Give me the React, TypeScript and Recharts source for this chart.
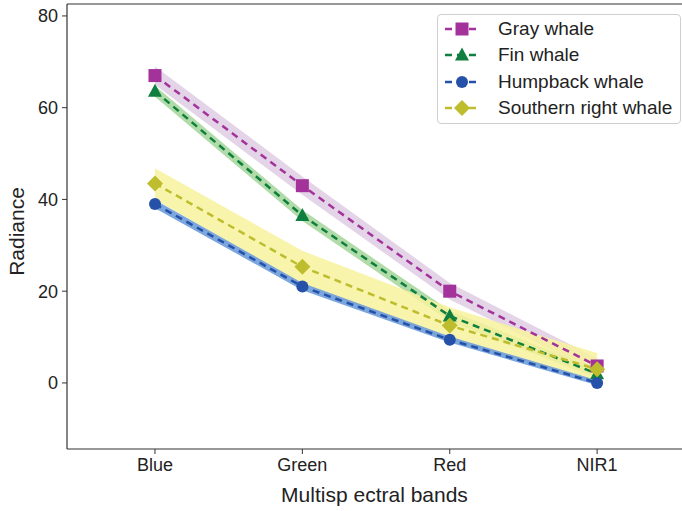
import { ComposedChart, Line, Area, XAxis, YAxis, ReferenceLine } from "recharts";

const bands = ["Blue", "Green", "Red", "NIR1"];
const bandPos = [1, 2, 3, 4];

// mean radiance per band
const grayWhale = [67, 43, 20, 3.7];
const finWhale = [63.6, 36.5, 14.6, 2];
const humpbackWhale = [39, 21, 9.4, 0];
const southernRightWhale = [43.5, 25.3, 12.5, 3];

// shaded spread per band
const grayLow = [65, 41, 18.2, 2.2];
const grayHigh = [69, 45, 21.8, 5.4];
const finLow = [62.4, 35.3, 13.4, 1];
const finHigh = [64.8, 37.7, 15.8, 3];
const humpLow = [38.1, 20.2, 8.8, -0.5];
const humpHigh = [39.9, 21.8, 10.1, 0.6];
const southLow = [40, 21.5, 9.3, 0.3];
const southHigh = [46.8, 28.8, 16.5, 6.5];

const yTicks = [0, 20, 40, 60, 80];
const yDomain = [-14.4, 82.6];
const xDomain = [0.403, 4.576];

const series = [
  { key: "gray", name: "Gray whale", color: "#a3339b", shape: "square" },
  { key: "fin", name: "Fin whale", color: "#0e7f3e", shape: "triangle" },
  { key: "hump", name: "Humpback whale", color: "#2651a8", shape: "circle" },
  { key: "south", name: "Southern right whale", color: "#bdbd2e", shape: "diamond" },
];

const data = bandPos.map((x, i) => ({
  x,
  gray: grayWhale[i],
  fin: finWhale[i],
  hump: humpbackWhale[i],
  south: southernRightWhale[i],
  grayRange: [grayLow[i], grayHigh[i]],
  finRange: [finLow[i], finHigh[i]],
  humpRange: [humpLow[i], humpHigh[i]],
  southRange: [southLow[i], southHigh[i]],
}));

const font = "'Liberation Sans', Arial, sans-serif";

function Marker({ shape, cx, cy, color }: any) {
  if (shape === "square") return <rect x={cx - 6.5} y={cy - 6.5} width={13} height={13} fill={color} />;
  if (shape === "triangle")
    return <polygon points={`${cx},${cy - 7.5} ${cx + 7},${cy + 5.5} ${cx - 7},${cy + 5.5}`} fill={color} />;
  if (shape === "circle") return <circle cx={cx} cy={cy} r={6} fill={color} />;
  return <polygon points={`${cx},${cy - 8} ${cx + 8},${cy} ${cx},${cy + 8} ${cx - 8},${cy}`} fill={color} />;
}

function LegendBox() {
  return (
    <div
      style={{
        position: "absolute",
        left: 437,
        top: 14,
        width: 244,
        boxSizing: "border-box",
        border: "1px solid #cfcfcf",
        borderRadius: 4,
        background: "#fff",
        padding: "1px 0 2px 0",
        fontFamily: font,
        fontSize: 19,
        color: "#222",
      }}
    >
      {series.map((s) => (
        <div key={s.key} style={{ display: "flex", alignItems: "center", height: 26.3 }}>
          <svg width={54} height={20} style={{ marginLeft: 6, flex: "none" }}>
            <line x1={1} x2={35} y1={10} y2={10} stroke={s.color} strokeWidth={2.5} strokeDasharray="7 5" />
            <Marker shape={s.shape} cx={18} cy={10} color={s.color} />
          </svg>
          <span style={{ whiteSpace: "nowrap" }}>{s.name}</span>
        </div>
      ))}
    </div>
  );
}

function YLabel({ viewBox }: any) {
  const cy = viewBox.y + viewBox.height / 2 + 5;
  return (
    <text
      x={16}
      y={cy}
      transform={`rotate(-90 16 ${cy})`}
      textAnchor="middle"
      dominantBaseline="central"
      fontFamily={font}
      fontSize={21}
      fill="#222"
    >
      Radiance
    </text>
  );
}

export default function App() {
  return (
    <div style={{ position: "absolute", left: 0, top: 0, width: 682, height: 511, background: "#fff" }}>
      <ComposedChart width={682} height={511} data={data} margin={{ top: 4, right: 0, left: 0, bottom: 0 }}>
        <XAxis
          dataKey="x"
          type="number"
          domain={xDomain}
          ticks={bandPos}
          tickFormatter={(v) => bands[v - 1]}
          allowDataOverflow
          height={62}
          tickSize={5}
          tickMargin={4}
          tick={{ fill: "#222", fontSize: 18, fontFamily: font }}
          axisLine={{ stroke: "#333", strokeWidth: 1.2 }}
          tickLine={{ stroke: "#333" }}
          label={{
            value: "Multisp ectral bands",
            position: "insideBottom",
            offset: 9,
            fill: "#222",
            fontSize: 21,
            fontFamily: font,
          }}
        />
        <YAxis
          type="number"
          domain={yDomain}
          ticks={yTicks}
          allowDataOverflow
          width={67}
          tickSize={5}
          tickMargin={4}
          tick={{ fill: "#222", fontSize: 18, fontFamily: font }}
          axisLine={{ stroke: "#333", strokeWidth: 1.2 }}
          tickLine={{ stroke: "#333" }}
          label={<YLabel />}
        />
        <ReferenceLine y={yDomain[1]} stroke="#333" strokeWidth={1.2} />
        <Area dataKey="grayRange" type="linear" stroke="none" fill="#e4d4e8" fillOpacity={1} isAnimationActive={false} />
        <Area dataKey="finRange" type="linear" stroke="none" fill="#a8d8a1" fillOpacity={0.9} isAnimationActive={false} />
        <Area dataKey="southRange" type="linear" stroke="none" fill="#f8f29e" fillOpacity={0.85} isAnimationActive={false} />
        <Area dataKey="humpRange" type="linear" stroke="none" fill="#6d9cda" fillOpacity={0.9} isAnimationActive={false} />
        {series.map((s) => (
          <Line
            key={s.key}
            dataKey={s.key}
            name={s.name}
            type="linear"
            stroke={s.color}
            strokeWidth={2.5}
            strokeDasharray="7 5"
            isAnimationActive={false}
            activeDot={false}
            dot={(p: any) => <Marker key={`${s.key}-${p.index}`} shape={s.shape} cx={p.cx} cy={p.cy} color={s.color} />}
          />
        ))}
      </ComposedChart>
      <LegendBox />
    </div>
  );
}
